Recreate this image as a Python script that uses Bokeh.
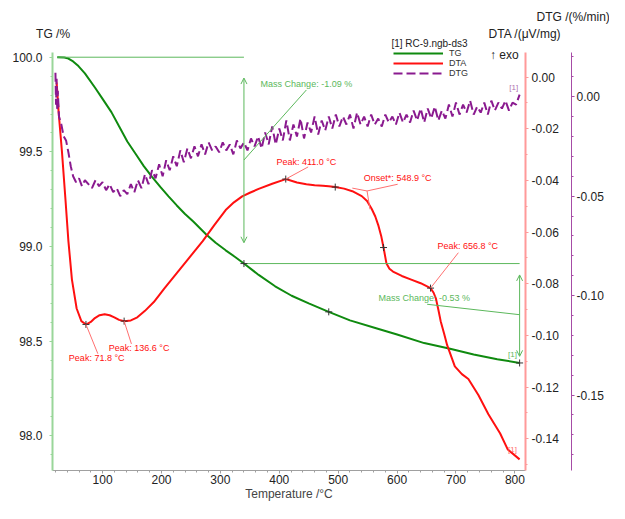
import numpy as np
from bokeh.plotting import figure
from bokeh.models import (Range1d, LinearAxis, SingleIntervalTicker, NumeralTickFormatter,
                          FixedTicker, Label, Arrow, OpenHead, Legend, LegendItem, Title)
from bokeh.embed import file_html
from bokeh.resources import INLINE

FONT = "Liberation Sans"

# ---------------- data ----------------
tg_T = [23, 35, 42, 50, 59, 70, 87, 100, 115, 128, 142, 156, 170, 184, 198, 212, 226, 240,
        254, 276, 292, 309, 325, 340, 365, 393, 421, 450, 484, 520, 563, 600, 646, 690,
        730, 770, 808]
tg = [100.0, 99.998, 99.993, 99.978, 99.953, 99.915, 99.84, 99.78, 99.71, 99.635, 99.555,
      99.49, 99.425, 99.368, 99.315, 99.265, 99.217, 99.172, 99.132, 99.064, 99.02, 98.98,
      98.945, 98.91, 98.85, 98.79, 98.74, 98.70, 98.655, 98.61, 98.57, 98.535, 98.49,
      98.46, 98.43, 98.405, 98.385]

dta_T = [22, 25.5, 31, 37, 42, 48, 56, 64, 72, 80, 87, 95, 103.5, 112, 120, 128, 137, 148,
         159, 172, 187, 205, 226, 248, 270, 290, 309, 323, 337, 351, 365, 388, 411, 430,
         446, 460, 474, 484, 495, 510, 524, 540, 549, 557, 563, 568, 573, 577, 582, 587,
         593, 608, 624, 640, 656.8, 662, 666, 670, 674, 680, 685, 698, 710, 721, 738, 755,
         775, 788, 808]
dta = [-0.002, -0.0139, -0.0288, -0.0474, -0.0635, -0.0784, -0.0896, -0.0945, -0.0958,
       -0.0948, -0.0933, -0.0922, -0.0918, -0.0922, -0.0930, -0.0940, -0.0945, -0.0942,
       -0.0930, -0.0905, -0.0871, -0.0818, -0.0759, -0.0697, -0.0635, -0.0572, -0.0515,
       -0.0485, -0.0462, -0.0447, -0.0433, -0.0413, -0.0395, -0.0408, -0.0415, -0.0419,
       -0.0421, -0.0423, -0.0426, -0.0432, -0.0442, -0.0461, -0.0480, -0.0511, -0.0540,
       -0.0573, -0.0615, -0.0660, -0.0722, -0.0742, -0.0753, -0.0770, -0.0784, -0.0798,
       -0.0817, -0.0835, -0.0858, -0.0900, -0.0945, -0.0995, -0.1038, -0.1120, -0.1150,
       -0.1169, -0.1231, -0.1305, -0.1380, -0.1442, -0.1480]

dtg_T = [20, 21, 22, 23, 24, 26, 30, 34, 38, 42, 46, 50, 55, 60, 65, 70, 76, 82, 88, 94,
         100, 106, 112, 118, 124, 130, 136, 142, 148, 154, 160, 166, 172, 178, 184, 190,
         196, 202, 208, 214, 220, 226, 232, 238, 244, 250, 256, 262, 268, 274, 280, 286,
         292, 298, 304, 310, 316, 322, 328, 334, 340, 346, 352, 358, 364, 370, 376, 382,
         388, 394, 400, 406, 412, 418, 424, 430, 436, 442, 448, 454, 460, 466, 472, 478,
         484, 490, 496, 502, 508, 514, 520, 526, 532, 538, 544, 550, 556, 562, 568, 574,
         580, 586, 592, 598, 604, 610, 616, 622, 628, 634, 640, 646, 652, 658, 664, 670,
         676, 682, 688, 694, 700, 706, 712, 718, 724, 730, 736, 742, 748, 754, 760, 766,
         772, 778, 784, 790, 796, 802, 808]
dtg = [0.012, -0.004, 0.009, -0.007, 0.003, -0.010, -0.014, -0.020, -0.022, -0.028, -0.035,
       -0.040, -0.043, -0.041, -0.045, -0.042, -0.044, -0.046, -0.042, -0.045, -0.043,
       -0.047, -0.044, -0.048, -0.046, -0.050, -0.047, -0.049, -0.044, -0.048, -0.042,
       -0.046, -0.039, -0.044, -0.037, -0.041, -0.034, -0.040, -0.032, -0.037, -0.030,
       -0.035, -0.027, -0.033, -0.026, -0.031, -0.025, -0.030, -0.024, -0.029, -0.023,
       -0.027, -0.025, -0.028, -0.023, -0.027, -0.024, -0.029, -0.022, -0.026, -0.023,
       -0.027, -0.021, -0.025, -0.020, -0.026, -0.018, -0.024, -0.015, -0.024, -0.016,
       -0.022, -0.012, -0.022, -0.014, -0.020, -0.011, -0.021, -0.013, -0.018, -0.010,
       -0.019, -0.012, -0.017, -0.010, -0.016, -0.009, -0.015, -0.010, -0.014, -0.009,
       -0.016, -0.008, -0.014, -0.010, -0.015, -0.009, -0.014, -0.011, -0.015, -0.009,
       -0.013, -0.010, -0.014, -0.008, -0.013, -0.009, -0.013, -0.007, -0.012, -0.006,
       -0.013, -0.006, -0.011, -0.005, -0.012, -0.007, -0.011, -0.004, -0.010, -0.003,
       -0.009, -0.004, -0.008, -0.002, -0.009, -0.005, -0.008, -0.003, -0.009, -0.002,
       -0.007, -0.003, -0.006, -0.002, -0.007, -0.003, -0.004, 0.001]

# evaluation results shown on the chart
mass_change_1 = -1.09      # %
mass_change_2 = -0.53      # %
mc_T = 340                 # step boundary (deg C)
dta_peaks = [71.8, 136.6, 411.0, 656.8]
dta_onset = 548.9
onset_tangent_T = [495, 577]
tg_marks_T = [340, 484, 808]

# axis extents (value at top end of each drawn axis line)
X_LO, X_HI = 15, 818
TG_LO, TG_HI = 97.817, 100.025
DTA_LO, DTA_HI = -0.1523, 0.0095
DTG_LO, DTG_HI = -0.1879, 0.0222
HEAD = 4 / 420.0           # frame extends a little above the axis lines

# ---------------- colours ----------------
C_TG, C_DTA, C_DTG = "#0f8a0f", "#ff1010", "#8a1a8f"
C_TG_ANN, C_DTA_ANN = "#5cb85c", "#ff7070"

# ---------------- figure ----------------
p = figure(width=609, height=503, output_backend="svg", toolbar_location=None,
           x_range=Range1d(X_LO, X_HI),
           y_range=Range1d(TG_LO, TG_HI + (TG_HI - TG_LO) * HEAD),
           min_border_left=52, min_border_right=84, min_border_top=48,
           min_border_bottom=30)
p.extra_y_ranges = {
    "dta": Range1d(DTA_LO, DTA_HI + (DTA_HI - DTA_LO) * HEAD),
    "dtg": Range1d(DTG_LO, DTG_HI + (DTG_HI - DTG_LO) * HEAD)}
p.grid.visible = False
p.outline_line_color = None


def style_axis(ax, color, size="12px"):
    ax.axis_line_color = color
    ax.major_tick_line_color = color
    ax.minor_tick_line_color = color
    ax.major_tick_in = 0
    ax.minor_tick_in = 0
    ax.major_tick_out = 3
    ax.minor_tick_out = 2
    ax.major_label_text_font = FONT
    ax.major_label_text_font_size = size
    ax.major_label_text_color = "#222222"
    ax.axis_label_text_font = FONT
    ax.axis_label_text_font_style = "normal"


def text_axis(ticks, labels, size, standoff=0):
    ax = LinearAxis(ticker=FixedTicker(ticks=ticks),
                    major_label_overrides=dict(zip(ticks, labels)))
    ax.axis_line_color = None
    ax.major_tick_line_color = None
    ax.minor_tick_line_color = None
    ax.major_tick_in = 0
    ax.major_tick_out = 0
    ax.minor_tick_out = 0
    ax.major_label_standoff = standoff
    ax.major_label_text_font = FONT
    ax.major_label_text_font_size = size
    ax.major_label_text_color = "#222222"
    return ax


# bottom axis
xa = p.xaxis[0]
xa.ticker = SingleIntervalTicker(interval=100, num_minor_ticks=5)
xa.axis_label = "Temperature /°C"
style_axis(xa, "#a0a0a0", "12px")
xa.axis_label_text_font_size = "12px"
xa.major_label_standoff = 1
xa.axis_label_standoff = 0

# left TG axis
ya = p.yaxis[0]
ya.ticker = SingleIntervalTicker(interval=0.5, num_minor_ticks=5)
ya.formatter = NumeralTickFormatter(format="0.0")
ya.bounds = (TG_LO, TG_HI)
style_axis(ya, "#99d699")
ya.axis_line_width = 2
ya.major_label_standoff = 7

# right DTA axis
ax_dta = LinearAxis(y_range_name="dta",
                    ticker=SingleIntervalTicker(interval=0.02, num_minor_ticks=2),
                    formatter=NumeralTickFormatter(format="0.00"),
                    bounds=(DTA_LO, DTA_HI))
style_axis(ax_dta, "#ff9a9a")
ax_dta.axis_line_width = 2
ax_dta.major_label_standoff = 3
ax_dta.axis_label = " "
ax_dta.axis_label_text_font_size = "7px"
ax_dta.axis_label_standoff = 0
p.add_layout(ax_dta, "right")

# right DTG axis
ax_dtg = LinearAxis(y_range_name="dtg",
                    ticker=SingleIntervalTicker(interval=0.05, num_minor_ticks=5),
                    formatter=NumeralTickFormatter(format="0.00"),
                    bounds=(DTG_LO, DTG_HI))
style_axis(ax_dtg, "#a64ca6")
ax_dtg.major_label_standoff = 2
p.add_layout(ax_dtg, "right")

# texts above the plot (rows, nearest to the plot first)
p.add_layout(text_axis([655], ["[1] RC-9.ngb-ds3"], "10px"), "above")
p.add_layout(text_axis([16, 817], ["TG /%", "DTA /(μV/mg)"], "12px", standoff=-6), "above")
p.add_layout(Title(text="DTG /(%/min)", align="left", offset=484, standoff=0,
                   text_font=FONT, text_font_size="12px", text_font_style="normal",
                   text_color="#222222"), "above")

# ---------------- curves ----------------
r_tg = p.line(tg_T, tg, line_color=C_TG, line_width=2)
r_dta = p.line(dta_T, dta, line_color=C_DTA, line_width=2, y_range_name="dta")
r_dtg = p.line(dtg_T, dtg, line_color=C_DTG, line_width=2, line_dash="9 4",
               y_range_name="dtg")

# ---------------- TG evaluation ----------------
tg_at_mc = float(np.interp(mc_T, tg_T, tg))
p.line([tg_T[0], mc_T], [tg[0], tg[0]], line_color=C_TG_ANN, line_width=1)
p.line([mc_T, tg_T[-1]], [tg_at_mc, tg_at_mc], line_color=C_TG_ANN, line_width=1)
for xs, y0, y1 in [(mc_T, 99.89, 99.02), (tg_T[-1], 98.85, 98.42)]:
    p.add_layout(Arrow(start=OpenHead(size=6, line_color=C_TG_ANN, line_width=1),
                       end=OpenHead(size=6, line_color=C_TG_ANN, line_width=1),
                       x_start=xs, y_start=y0, x_end=xs, y_end=y1,
                       line_color=C_TG_ANN, line_width=1))
p.segment([446, 651], [99.827, 98.695], [mc_T, tg_T[-1]], [99.457, 98.64],
          line_color=C_TG_ANN, line_width=1)
for t, txt in [((446, 99.858), f"Mass Change: {mass_change_1:.2f} %"),
               ((646, 98.726), f"Mass Change: {mass_change_2:.2f} %")]:
    p.add_layout(Label(x=t[0], y=t[1], text=txt, text_align="center",
                       text_baseline="middle", text_font=FONT, text_font_size="9px",
                       text_color=C_TG_ANN))
p.scatter(tg_marks_T, list(np.interp(tg_marks_T, tg_T, tg)), marker="cross", size=7,
          line_color="#333333", line_width=1)

# ---------------- DTA evaluation ----------------
peak_y = list(np.interp(dta_peaks, dta_T, dta))
p.scatter(dta_peaks, peak_y, marker="cross", size=7, line_color="#333333",
          line_width=1, y_range_name="dta")
p.scatter(onset_tangent_T, list(np.interp(onset_tangent_T, dta_T, dta)), marker="cross",
          size=7, line_color="#333333", line_width=1, y_range_name="dta")
peak_label_pos = [(90, -0.1086), (162, -0.1048), (446, -0.0330), (720, -0.0654)]
peak_leader_from = [(92, -0.1071), (149, -0.1033), (449, -0.0348), (704, -0.0680)]
for pk, py, lp, lf in zip(dta_peaks, peak_y, peak_label_pos, peak_leader_from):
    p.segment([lf[0]], [lf[1]], [pk], [py], line_color=C_DTA_ANN, line_width=1,
              y_range_name="dta")
    p.add_layout(Label(x=lp[0], y=lp[1], text=f"Peak: {pk:.1f} °C", text_align="center",
                       text_baseline="middle", text_font=FONT, text_font_size="9px",
                       text_color=C_DTA, y_range_name="dta"))
p.segment([601, 549, 549], [-0.0415, -0.0441, -0.0441], [549, 524, 554],
          [-0.0441, -0.0430, -0.0512], line_color=C_DTA_ANN, line_width=1,
          y_range_name="dta")
p.add_layout(Label(x=601, y=-0.0389, text=f"Onset*: {dta_onset:.1f} °C",
                   text_align="center", text_baseline="middle", text_font=FONT,
                   text_font_size="9px", text_color=C_DTA, y_range_name="dta"))

# curve tags
p.add_layout(Label(x=796, y=98.43, text="[1]", text_font=FONT, text_font_size="8px",
                   text_color=C_TG_ANN, text_align="center", text_baseline="middle"))
p.add_layout(Label(x=796, y=-0.144, text="[1]", text_font=FONT, text_font_size="8px",
                   text_color=C_DTA_ANN, text_align="center", text_baseline="middle",
                   y_range_name="dta"))
p.add_layout(Label(x=798, y=0.0048, text="[1]", text_font=FONT, text_font_size="8px",
                   text_color="#b070b0", text_align="center", text_baseline="middle",
                   y_range_name="dtg"))

# exo marker
p.add_layout(Label(x=782, y=100.01, text="↑ exo", text_font=FONT,
                   text_font_size="12px", text_color="#222222", text_align="center",
                   text_baseline="middle"))

# ---------------- legend ----------------
legend = Legend(items=[LegendItem(label="TG", renderers=[r_tg]),
                       LegendItem(label="DTA", renderers=[r_dta]),
                       LegendItem(label="DTG", renderers=[r_dtg])],
                location=(341, 392),
                glyph_width=50, glyph_height=10, label_height=10, label_width=20,
                spacing=0, padding=0, margin=0, label_standoff=6,
                label_text_font=FONT, label_text_font_size="9px",
                label_text_color="#333333", background_fill_alpha=0,
                border_line_alpha=0)
p.add_layout(legend)

open("out.html", "w").write(file_html(p, INLINE))
